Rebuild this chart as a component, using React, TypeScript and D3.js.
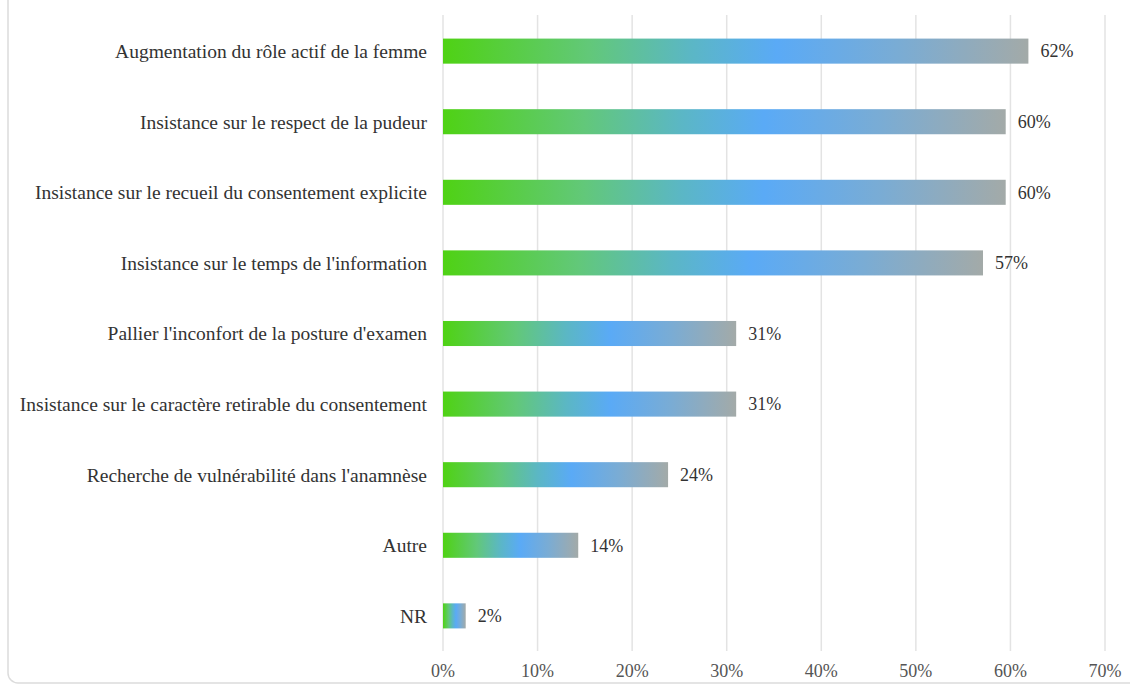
import { useEffect, useRef } from 'react'
import * as d3 from 'd3'

const categories = [
  'Augmentation du rôle actif de la femme',
  'Insistance sur le respect de la pudeur',
  'Insistance sur le recueil du consentement explicite',
  "Insistance sur le temps de l'information",
  "Pallier l'inconfort de la posture d'examen",
  'Insistance sur le caractère retirable du consentement',
  "Recherche de vulnérabilité dans l'anamnèse",
  'Autre',
  'NR'
]

const values = [61.9, 59.5, 59.5, 57.1, 31.0, 31.0, 23.8, 14.3, 2.4]

const xTicks = [0, 10, 20, 30, 40, 50, 60, 70]

const W = 1130
const H = 684

export default function App() {
  const svgRef = useRef<SVGSVGElement>(null)

  useEffect(() => {
    if (!svgRef.current) return
    const svg = d3.select(svgRef.current)
    svg.selectAll('*').remove()

    const x = d3.scaleLinear().domain([0, 70]).range([443, 1105])
    const y = d3.scaleBand<string>()
      .domain(categories)
      .range([16, 651])
      .paddingInner(0.645)
      .paddingOuter(0.32)

    // gradient per bar
    const grad = svg.append('defs').append('linearGradient')
      .attr('id', 'barGrad')
      .attr('x1', '0%').attr('x2', '100%')
      .attr('y1', '0%').attr('y2', '0%')
    const stops: [number, string][] = [
      [0, '#4fd214'],
      [0.25, '#62c879'],
      [0.42, '#5bb7c4'],
      [0.57, '#5aaaf6'],
      [0.78, '#7aacd4'],
      [1, '#a3aaa8']
    ]
    grad.selectAll('stop')
      .data(stops)
      .enter().append('stop')
      .attr('offset', d => d[0])
      .attr('stop-color', d => d[1])

    // frame
    svg.append('rect')
      .attr('x', 8).attr('y', -20)
      .attr('width', W + 20).attr('height', 703)
      .attr('rx', 10)
      .attr('fill', 'none')
      .attr('stroke', '#dcdcdc')
      .attr('stroke-width', 1.5)

    // grid
    svg.append('g')
      .selectAll('line')
      .data(xTicks)
      .enter().append('line')
      .attr('x1', d => x(d)).attr('x2', d => x(d))
      .attr('y1', 15).attr('y2', 651)
      .attr('stroke', '#e3e3e3')
      .attr('stroke-width', 1.5)

    // x tick labels
    svg.append('g')
      .selectAll('text')
      .data(xTicks)
      .enter().append('text')
      .attr('x', d => x(d))
      .attr('y', 677)
      .attr('text-anchor', 'middle')
      .attr('font-family', '"Liberation Serif", serif')
      .attr('font-size', 18)
      .attr('fill', '#555')
      .text(d => d + '%')

    // bars
    svg.append('g')
      .selectAll('rect')
      .data(values)
      .enter().append('rect')
      .attr('x', x(0))
      .attr('y', (_, i) => y(categories[i])!)
      .attr('width', d => x(d) - x(0))
      .attr('height', y.bandwidth())
      .attr('fill', 'url(#barGrad)')

    // category labels
    svg.append('g')
      .selectAll('text')
      .data(categories)
      .enter().append('text')
      .attr('x', 427)
      .attr('y', d => y(d)! + y.bandwidth() / 2)
      .attr('dy', '0.35em')
      .attr('text-anchor', 'end')
      .attr('font-family', '"Liberation Serif", serif')
      .attr('font-size', 19.5)
      .attr('fill', '#333')
      .text(d => d)

    // value labels
    svg.append('g')
      .selectAll('text')
      .data(values)
      .enter().append('text')
      .attr('x', d => x(d) + 12)
      .attr('y', (_, i) => y(categories[i])! + y.bandwidth() / 2)
      .attr('dy', '0.35em')
      .attr('font-family', '"Liberation Serif", serif')
      .attr('font-size', 18)
      .attr('fill', '#333')
      .text(d => Math.round(d) + '%')
  }, [])

  return (
    <svg
      ref={svgRef}
      width={W}
      height={H}
      style={{ position: 'absolute', left: 0, top: 0, background: '#fff' }}
    />
  )
}
